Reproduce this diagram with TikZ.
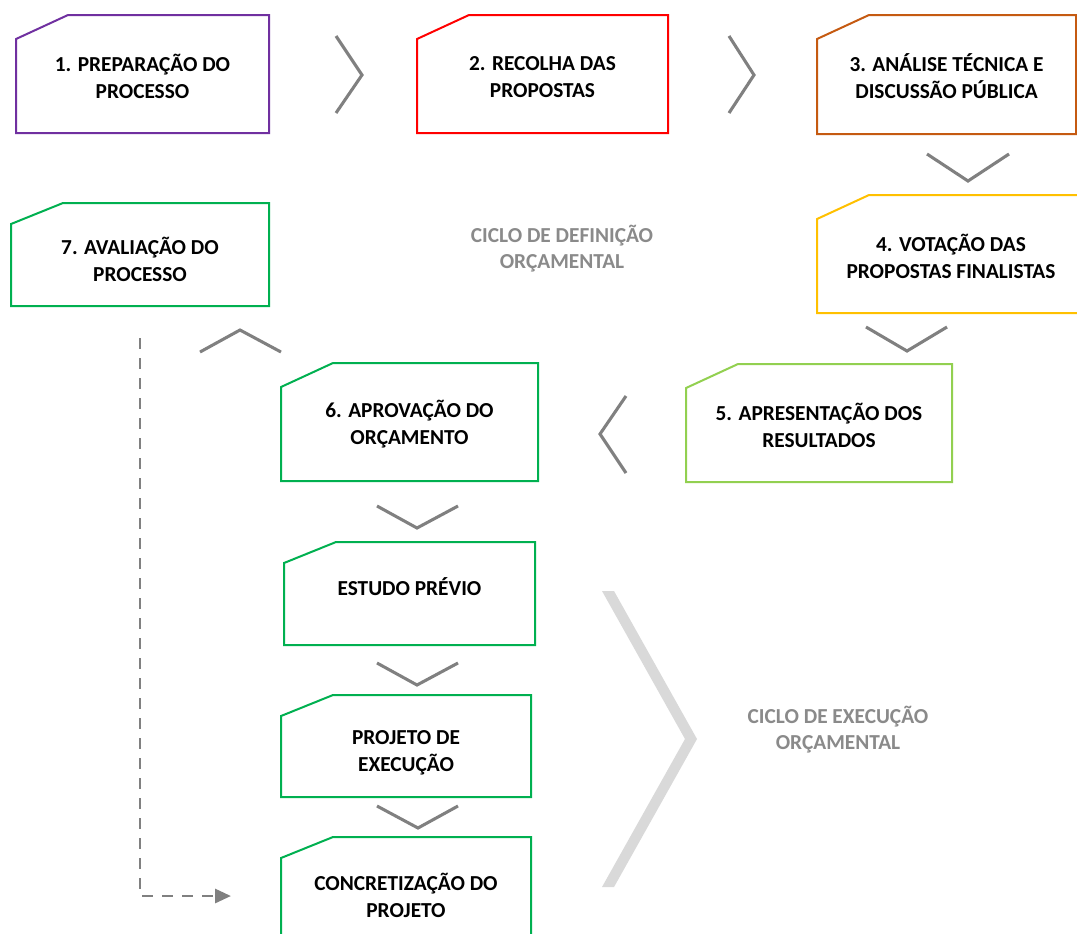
\documentclass[tikz,border=0pt]{standalone}
\usepackage{fontspec}
\setmainfont{Carlito}
\usetikzlibrary{arrows.meta}
\definecolor{cpurple}{HTML}{7030A0}
\definecolor{cred}{HTML}{FF0000}
\definecolor{corange}{HTML}{C55A11}
\definecolor{cyellow}{HTML}{FFC000}
\definecolor{clime}{HTML}{92D050}
\definecolor{cgreen}{HTML}{00B050}
\definecolor{chevgray}{HTML}{808080}
\definecolor{biggray}{HTML}{D9D9D9}
\definecolor{labelgray}{HTML}{8A8A8A}
\tikzset{
  boxline/.style={line width=1.5pt, line join=miter},
  boxtext/.style={align=center, inner sep=0pt, font=\fontsize{16}{20.25}\selectfont\bfseries, text=black},
  cycletext/.style={align=center, inner sep=0pt, font=\fontsize{16}{19.5}\selectfont\bfseries, text=labelgray},
  chevron/.style={draw=chevgray, line width=2.3pt},
  flowdash/.style={draw=chevgray, line width=2.2pt, dash pattern=on 8pt off 7pt, -{Triangle[length=12pt,width=10.5pt]}}
}
% #1 name, #2 colour, #3 x1, #4 y1, #5 x2, #6 y2, #7 chamfer dy, #8 text y, #9 text
\newcommand\stagebox[9]{%
  \draw[boxline,#2] (#3,#4+#7) -- (#3+52,#4) -- (#5,#4) -- (#5,#6) -- (#3,#6) -- cycle;
  \node[boxtext] (#1) at ({(#3+#5)/2},#8) {#9};
}
\begin{document}
\begin{tikzpicture}[x=0.75pt,y=-0.75pt]
\useasboundingbox (0,0) rectangle (1077,933);
\clip (0,0) rectangle (1077,933);
\fill[white] (0,0) rectangle (1077,933);

% stage boxes
\stagebox{b1}{cpurple}{16}{15}{269}{133}{24}{76.5}{1. PREPARAÇÃO DO\\PROCESSO}
\stagebox{b2}{cred}{417}{15}{668}{133}{24}{77.5}{2. RECOLHA DAS\\PROPOSTAS}
\stagebox{b3}{corange}{817}{15}{1076}{134}{24}{76}{3. ANÁLISE TÉCNICA E\\DISCUSSÃO PÚBLICA}
\stagebox{b4}{cyellow}{817}{195}{1085}{313}{24}{256.5}{4. VOTAÇÃO DAS\\PROPOSTAS FINALISTAS}
\stagebox{b5}{clime}{686}{364}{952}{482}{24}{425}{5. APRESENTAÇÃO DOS\\RESULTADOS}
\stagebox{b6}{cgreen}{281}{363}{538}{481}{24}{424}{6. APROVAÇÃO DO\\ORÇAMENTO}
\stagebox{b7}{cgreen}{11}{203}{269}{306}{21}{259.5}{7. AVALIAÇÃO DO\\PROCESSO}
\stagebox{est}{cgreen}{284}{542}{535}{645}{21}{587}{ESTUDO PRÉVIO}
\stagebox{proj}{cgreen}{281}{695}{531}{797}{21}{753}{PROJETO DE\\EXECUÇÃO}
\stagebox{conc}{cgreen}{281}{837}{531}{939}{21}{895}{CONCRETIZAÇÃO DO\\PROJETO}

% chevrons between stages
\draw[chevron] (336,36) -- (362,75) -- (336,113);
\draw[chevron] (729,36) -- (754,75) -- (729,113);
\draw[chevron] (927,154) -- (968,181) -- (1009,154);
\draw[chevron] (866,327) -- (907,351) -- (947,327);
\draw[chevron] (626,396) -- (600,434) -- (626,473);
\draw[chevron] (200,352) -- (240,330) -- (281,352);
\draw[chevron] (377,506) -- (417,528) -- (458,506);
\draw[chevron] (377,663) -- (417,685) -- (458,663);
\draw[chevron] (377,806) -- (418,828) -- (458,806);

% big execution chevron
\fill[biggray] (602,591) -- (614,591) -- (697,739) -- (614,887) -- (602,887) -- (685,739) -- cycle;

% cycle labels
\node[cycletext] (defcycle) at (562,248.5) {CICLO DE DEFINIÇÃO\\ORÇAMENTAL};
\node[cycletext] (execcycle) at (838,730) {CICLO DE EXECUÇÃO\\ORÇAMENTAL};

% dashed feedback connector
\coordinate (dashstart) at (140,338);
\coordinate (dashend) at (231,896);
\draw[flowdash] (dashstart) |- (dashend);
\end{tikzpicture}
\end{document}
